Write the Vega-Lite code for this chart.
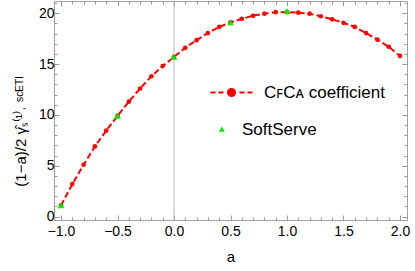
{
  "$schema": "https://vega.github.io/schema/vega-lite/v6.json",
  "width": 353,
  "height": 219,
  "autosize": "none",
  "padding": {"left": 54, "top": 1, "right": 8, "bottom": 51},
  "config": {
    "view": {"stroke": "#a0a0a0", "strokeWidth": 1},
    "axis": {"domain": false, "grid": false, "ticks": true, "labelFont": "Liberation Sans", "titleFont": "Liberation Sans", "labelColor": "#000000", "titleColor": "#000000", "tickColor": "#999999", "tickWidth": 1, "labelOverlap": false, "labelFlush": false, "titleFontWeight": "normal"},
    "legend": {"labelFont": "Liberation Sans"}
  },
  "datasets": {
    "curve": [
      {"a": -1.0, "v": 1.1, "series": "CFCA"},
      {"a": -0.9, "v": 3.2, "series": "CFCA"},
      {"a": -0.8, "v": 5.1, "series": "CFCA"},
      {"a": -0.7, "v": 6.9, "series": "CFCA"},
      {"a": -0.6, "v": 8.45, "series": "CFCA"},
      {"a": -0.5, "v": 9.9, "series": "CFCA"},
      {"a": -0.4, "v": 11.3, "series": "CFCA"},
      {"a": -0.3, "v": 12.6, "series": "CFCA"},
      {"a": -0.2, "v": 13.8, "series": "CFCA"},
      {"a": -0.1, "v": 14.8, "series": "CFCA"},
      {"a": 0.0, "v": 15.7, "series": "CFCA"},
      {"a": 0.1, "v": 16.6, "series": "CFCA"},
      {"a": 0.2, "v": 17.35, "series": "CFCA"},
      {"a": 0.3, "v": 18.05, "series": "CFCA"},
      {"a": 0.4, "v": 18.65, "series": "CFCA"},
      {"a": 0.5, "v": 19.1, "series": "CFCA"},
      {"a": 0.6, "v": 19.45, "series": "CFCA"},
      {"a": 0.7, "v": 19.75, "series": "CFCA"},
      {"a": 0.8, "v": 19.95, "series": "CFCA"},
      {"a": 0.9, "v": 20.1, "series": "CFCA"},
      {"a": 1.0, "v": 20.1, "series": "CFCA"},
      {"a": 1.1, "v": 20.05, "series": "CFCA"},
      {"a": 1.2, "v": 19.95, "series": "CFCA"},
      {"a": 1.3, "v": 19.7, "series": "CFCA"},
      {"a": 1.4, "v": 19.4, "series": "CFCA"},
      {"a": 1.5, "v": 19.05, "series": "CFCA"},
      {"a": 1.6, "v": 18.65, "series": "CFCA"},
      {"a": 1.7, "v": 18.05, "series": "CFCA"},
      {"a": 1.8, "v": 17.4, "series": "CFCA"},
      {"a": 1.9, "v": 16.7, "series": "CFCA"},
      {"a": 2.0, "v": 15.8, "series": "CFCA"}
    ],
    "soft": [
      {"a": -1.0, "v": 1.1, "series": "SoftServe"},
      {"a": -0.5, "v": 9.9, "series": "SoftServe"},
      {"a": 0.0, "v": 15.7, "series": "SoftServe"},
      {"a": 0.5, "v": 19.1, "series": "SoftServe"},
      {"a": 1.0, "v": 20.2, "series": "SoftServe"}
    ],
    "zero": [{"a": 0}]
  },
  "resolve": {"axis": {"x": "independent", "y": "independent"}},
  "layer": [
    {
      "data": {"name": "zero"},
      "mark": {"type": "rule", "color": "#b8b8b8", "strokeWidth": 1},
      "encoding": {"x": {"field": "a", "type": "quantitative", "axis": null}}
    },
    {
      "data": {"name": "curve"},
      "encoding": {
        "x": {
          "field": "a", "type": "quantitative",
          "scale": {"domain": [-1.062, 2.062], "nice": false, "zero": false},
          "axis": {
            "orient": "bottom",
            "title": "a",
            "titleFontSize": 15,
            "titleY": 41,
            "titleBaseline": "alphabetic",
            "labelOverlap": false,
            "ticks": true,
            "values": [-1, -0.9, -0.8, -0.7, -0.6, -0.5, -0.4, -0.3, -0.2, -0.1, 0, 0.1, 0.2, 0.3, 0.4, 0.5, 0.6, 0.7, 0.8, 0.9, 1, 1.1, 1.2, 1.3, 1.4, 1.5, 1.6, 1.7, 1.8, 1.9, 2],
            "labelExpr": "abs(datum.value*2 - round(datum.value*2)) < 0.001 ? format(datum.value, '.1f') : ''",
            "labelFontSize": 14,
            "labelPadding": 9,
            "tickSize": {"condition": {"test": "abs(datum.value*2 - round(datum.value*2)) < 0.001", "value": -5}, "value": -3}
          }
        },
        "y": {
          "field": "v", "type": "quantitative",
          "scale": {"domain": [-0.33, 21.2], "nice": false, "zero": false},
          "axis": {
            "orient": "left",
            "title": "(1−a)/2 γ̂ₛ⁽¹⁾˒ ˢᶜᴱᵀᴵ",
            "titleFontSize": 15,
            "titleX": -26,
            "titleY": 130,
            "titleAlign": "center",
            "titleBaseline": "bottom",
            "labelOverlap": false,
            "ticks": true,
            "values": [0, 1, 2, 3, 4, 5, 6, 7, 8, 9, 10, 11, 12, 13, 14, 15, 16, 17, 18, 19, 20, 21],
            "labelExpr": "datum.value % 5 === 0 ? format(datum.value, 'd') : ''",
            "labelFontSize": 14,
            "labelPadding": 5,
            "tickSize": {"condition": {"test": "datum.value % 5 === 0", "value": -5}, "value": -3}
          }
        },
        "color": {
          "field": "series", "type": "nominal",
          "scale": {"domain": ["CFCA", "SoftServe"], "range": ["#ff0000", "#00ee00"]},
          "legend": {
            "orient": "none",
            "legendX": 169,
            "legendY": 83,
            "title": null,
            "padding": 0,
            "symbolSize": 400,
            "labelFontSize": 17,
            "labelOffset": 24,
            "rowPadding": 19,
            "labelExpr": "datum.value === 'CFCA' ? 'CꜰCᴀ coefficient' : 'SoftServe'",
            "encode": {
              "labels": {
                "update": {
                  "dx": {"signal": "datum.value === 'SoftServe' ? -22 : 0"}
                }
              },
              "symbols": {
                "update": {
                  "shape": {"signal": "datum.value === 'SoftServe' ? 'M-0.46,-0.14L-0.32,0.11L-0.60,0.11Z' : 'M-1,0H-0.76M-0.62,0H-0.38M0.38,0H0.62M0.76,0H1M-0.17,0A0.17,0.17,0,1,0,0.17,0A0.17,0.17,0,1,0,-0.17,0Z'"},
                  "size": {"value": 1764},
                  "fill": {"signal": "datum.value === 'SoftServe' ? '#00ee00' : '#ff0000'"},
                  "stroke": {"signal": "datum.value === 'SoftServe' ? '#00ee00' : '#ff0000'"},
                  "strokeWidth": {"signal": "datum.value === 'SoftServe' ? 0 : 2"},
                  "strokeDash": {"value": []},
                  "opacity": {"value": 1},
                  "fillOpacity": {"value": 1}
                }
              }
            }
          }
        }
      },
      "layer": [
        {"mark": {"type": "line", "strokeDash": [6, 3], "strokeWidth": 2}},
        {"mark": {"type": "point", "filled": true, "size": 22, "opacity": 1}}
      ]
    },
    {
      "data": {"name": "soft"},
      "mark": {"type": "point", "shape": "triangle-up", "filled": true, "size": 45, "opacity": 1},
      "encoding": {
        "x": {
          "field": "a", "type": "quantitative",
          "axis": {
            "orient": "top", "title": null, "labels": false, "ticks": true,
            "values": [-1, -0.9, -0.8, -0.7, -0.6, -0.5, -0.4, -0.3, -0.2, -0.1, 0, 0.1, 0.2, 0.3, 0.4, 0.5, 0.6, 0.7, 0.8, 0.9, 1, 1.1, 1.2, 1.3, 1.4, 1.5, 1.6, 1.7, 1.8, 1.9, 2],
            "tickSize": {"condition": {"test": "abs(datum.value*2 - round(datum.value*2)) < 0.001", "value": -5}, "value": -3}
          }
        },
        "y": {
          "field": "v", "type": "quantitative",
          "axis": {
            "orient": "right", "title": null, "labels": false, "ticks": true,
            "values": [0, 1, 2, 3, 4, 5, 6, 7, 8, 9, 10, 11, 12, 13, 14, 15, 16, 17, 18, 19, 20, 21],
            "tickSize": {"condition": {"test": "datum.value % 5 === 0", "value": -5}, "value": -3}
          }
        },
        "color": {"field": "series", "type": "nominal"}
      }
    }
  ]
}
